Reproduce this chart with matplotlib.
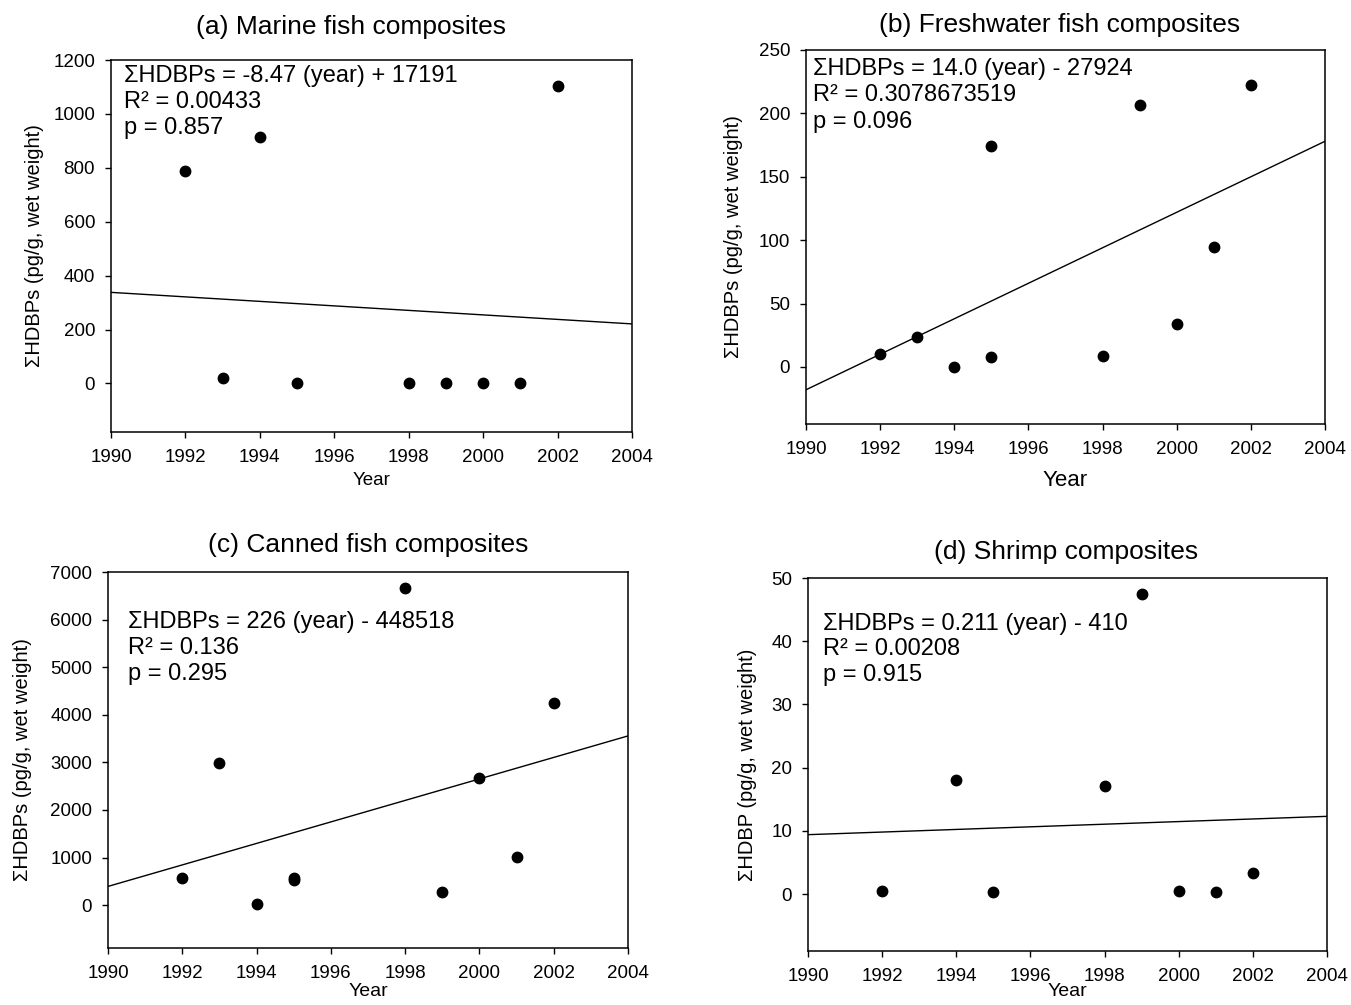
import matplotlib
matplotlib.use('Agg')
import matplotlib.pyplot as plt

plt.rcParams['font.family'] = ['Liberation Sans', 'DejaVu Sans']

# Datos (pg/g, peso humedo)
years_a = [1992, 1993, 1994, 1995, 1998, 1999, 2000, 2001, 2002]
hdbp_a = [790, 21, 914, 0, 0, 2, 0, 0, 1104]

years_b = [1992, 1993, 1994, 1995, 1995, 1998, 1999, 2000, 2001, 2002]
hdbp_b = [10, 24, 0, 8, 174, 9, 207, 34, 95, 222]

years_c = [1992, 1993, 1994, 1995, 1995, 1998, 1999, 2000, 2001, 2002]
hdbp_c = [570, 2990, 20, 580, 520, 6660, 270, 2680, 1010, 4250]

years_d = [1992, 1994, 1995, 1998, 1999, 2000, 2001, 2002]
hdbp_d = [0.5, 18.1, 0.3, 17.1, 47.5, 0.5, 0.3, 3.3]

# Recta de regresion: valores en 1990 y 2004
fit_years = [1990, 2004]
fit_a = [338, 221]
fit_b = [-18, 178]
fit_c = [394, 3556]
fit_d = [9.4, 12.3]

titles = ['(a) Marine fish composites', '(b) Freshwater fish composites',
          '(c) Canned fish composites', '(d) Shrimp composites']
stats_a = ['ΣHDBPs = -8.47 (year) + 17191', 'R² = 0.00433', 'p = 0.857']
stats_b = ['ΣHDBPs = 14.0 (year) - 27924', 'R² = 0.3078673519', 'p = 0.096']
stats_c = ['ΣHDBPs = 226 (year) - 448518', 'R² = 0.136', 'p = 0.295']
stats_d = ['ΣHDBPs = 0.211 (year) - 410', 'R² = 0.00208', 'p = 0.915']
ylabels = ['ΣHDBPs (pg/g, wet weight)', 'ΣHDBPs (pg/g, wet weight)',
           'ΣHDBPs (pg/g, wet weight)', 'ΣHDBP (pg/g, wet weight)']
x_ticks = [1990, 1992, 1994, 1996, 1998, 2000, 2002, 2004]

W, H = 1351, 1005
fig = plt.figure(figsize=(W / 100, H / 100), dpi=100)


def caja(x0, y0, x1, y1):
    # pixeles (arriba-izquierda) -> fraccion de figura
    return [x0 / W, 1 - y1 / H, (x1 - x0) / W, (y1 - y0) / H]


def panel(rect, years, vals, fit, stats, ylim, ystep, ylabel,
          txt_x, txt_y, ylab_x, year_y, year_fs):
    ax = fig.add_axes(rect)
    ax.plot(fit_years, fit, color='black', linewidth=1.0)
    ax.plot(years, vals, 'o', color='black', markersize=7.5)
    ax.set_xlim(1990, 2004)
    ax.set_ylim(*ylim)
    ax.set_xticks(x_ticks)
    ax.set_yticks(range(0, int(ylim[1]) + 1, ystep))
    ax.tick_params(axis='both', direction='out', length=4, width=1,
                   labelsize=13.5, top=False, right=False)
    ax.tick_params(axis='x', pad=8.5)
    ax.tick_params(axis='y', pad=7.5)
    for s in ax.spines.values():
        s.set_linewidth(1.1)
    ax.set_ylabel(ylabel, fontsize=14.5)
    ax.yaxis.set_label_coords(ylab_x, 0.5)
    ax.set_xlabel('Year', fontsize=year_fs)
    ax.xaxis.set_label_coords(0.5, year_y)
    for i, linea in enumerate(stats):
        ax.text(txt_x, txt_y[i], linea, transform=ax.transAxes,
                fontsize=17, ha='left', va='center')
    return ax


panel(caja(111, 60, 632, 432), years_a, hdbp_a, fit_a, stats_a,
      (-180, 1200), 200, ylabels[0], 0.025, [0.957, 0.886, 0.818],
      -0.129, -0.108, 13.5)
panel(caja(806, 50, 1325, 424), years_b, hdbp_b, fit_b, stats_b,
      (-45, 250), 50, ylabels[1], 0.0135, [0.950, 0.880, 0.808],
      -0.121, -0.122, 16)
panel(caja(108, 572, 628, 948), years_c, hdbp_c, fit_c, stats_c,
      (-900, 7000), 1000, ylabels[2], 0.038, [0.866, 0.798, 0.728],
      -0.146, -0.093, 14)
panel(caja(808, 578, 1327, 951), years_d, hdbp_d, fit_d, stats_d,
      (-9, 50), 10, ylabels[3], 0.029, [0.878, 0.810, 0.741],
      -0.098, -0.085, 14)

# Titulos de cada panel
fig.text(351 / W, 1 - 27 / H, titles[0], fontsize=19, ha='center', va='center')
fig.text(1060 / W, 1 - 25 / H, titles[1], fontsize=19, ha='center', va='center')
fig.text(368 / W, 1 - 545 / H, titles[2], fontsize=19, ha='center', va='center')
fig.text(1066 / W, 1 - 552 / H, titles[3], fontsize=19, ha='center', va='center')

fig.savefig('out.png', dpi=100)
